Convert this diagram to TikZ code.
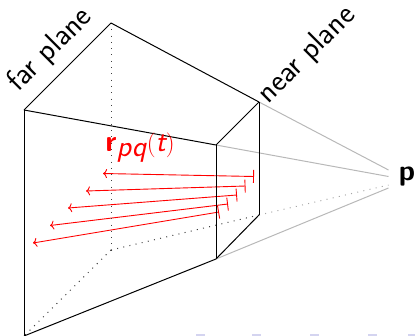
\documentclass[tikz,border=0pt]{standalone}
\usepackage{xcolor}
\usetikzlibrary{arrows.meta}
\definecolor{navblue}{HTML}{D4D4F0}
\begin{document}
\begin{tikzpicture}[x=1pt,y=-1pt,
  edge/.style={black,line width=1pt},
  hidden/.style={black!75,line width=1pt,dash pattern=on 1pt off 5.3pt},
  sight/.style={black!28,line width=1pt},
  sighthidden/.style={black!35,line width=1pt,dash pattern=on 1pt off 5.3pt},
  ray/.style={red,line width=0.9pt,{Bar[width=13pt,length=0.9pt]}-{To[length=4pt,width=9pt]}},
  planelabel/.style={rotate=45,font=\fontsize{31}{33}\selectfont\sffamily,inner sep=0pt},
  navmark/.style={fill=navblue,draw=none}]
\useasboundingbox (0,0) rectangle (415,336);
% frustum corners
\coordinate (farA) at (24,110);
\coordinate (farB) at (111,23);
\coordinate (farC) at (111,250);
\coordinate (farD) at (24,336);
\coordinate (nearA) at (216,145);
\coordinate (nearB) at (259,102);
\coordinate (nearC) at (259,215);
\coordinate (nearD) at (216,259);
% rays
\coordinate (s1) at (254,176.5);
\coordinate (s2) at (245.5,186);
\coordinate (s3) at (237,195);
\coordinate (s4) at (228,204);
\coordinate (s5) at (219,212);
\coordinate (t1) at (103,173.5);
\coordinate (t2) at (86,191);
\coordinate (t3) at (68,208);
\coordinate (t4) at (50,225.5);
\coordinate (t5) at (33,243);
\foreach \x/\y in {s1/t1,s2/t2,s3/t3,s4/t4,s5/t5} \draw[ray] (\x)--(\y);
\node[font=\bfseries\sffamily\fontsize{29}{31}\selectfont] (p) at (407,177) {p};
\coordinate (pA) at (388.5,170);
\coordinate (pB) at (388.5,176.5);
\coordinate (pC) at (388.5,185);
\coordinate (pD) at (388.5,188);
\draw[sight] (nearB)--(pA);
\draw[sight] (nearA)--(pB);
\draw[sight] (nearD)--(pD);
\draw[sighthidden] (nearC)--(pC);
\foreach \x/\y in {farB/farC,farC/farD,farC/nearC} \draw[hidden] (\x)--(\y);
\foreach \x/\y in {farA/farB,farB/nearB,nearB/nearA,nearA/farA,farA/farD,farD/nearD,nearD/nearA,nearD/nearC,nearC/nearB} \draw[edge] (\x)--(\y);
\node[planelabel] (farlabel) at (50,50) {far plane};
\node[planelabel] (nearlabel) at (307,55) {near plane};
\node[red,font=\fontsize{30}{32}\selectfont\sffamily] (raylabel) at (140,147.5) {$\textbf{r}_{\textit{pq}}(\textit{t})$};
% cropped marks along the lower edge
\foreach \x in {200,256,314,372,412} \fill[navmark] (\x-4.5,334.5) rectangle (\x+4.5,336);
\end{tikzpicture}
\end{document}
